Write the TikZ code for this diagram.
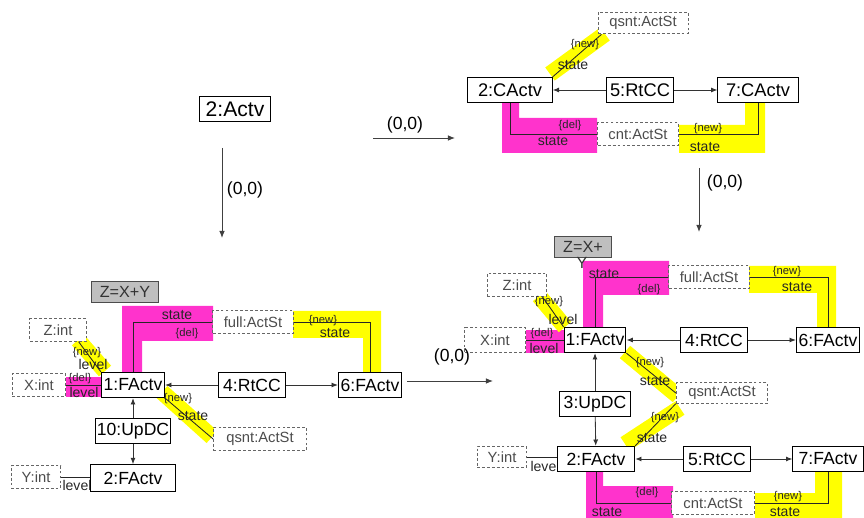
\documentclass[tikz,border=0pt]{standalone}
\usepackage{fontspec}
\setmainfont{Liberation Sans}
\usetikzlibrary{arrows.meta,calc,backgrounds}
\definecolor{delpink}{RGB}{255,51,204}
\definecolor{newyel}{RGB}{255,255,0}

\begin{document}
\begin{tikzpicture}[x=0.025cm,y=-0.025cm,line width=0.7pt,
  obj/.style={draw,fill=white,inner sep=1pt,minimum height=18pt,font=\fontsize{12.5}{14}\selectfont},
  val/.style={draw=black!60,dash pattern=on 2pt off 1.5pt,fill=white,text=black!70,inner sep=1pt,minimum height=16pt,font=\fontsize{10.5}{12}\selectfont},
  cond/.style={draw=black!70,fill=black!25,text=black!80,inner sep=1pt,minimum height=15.5pt,font=\fontsize{11.5}{13}\selectfont},
  lbl/.style={inner sep=0pt,text=black!85,font=\fontsize{10}{11}\selectfont},
  tag/.style={inner sep=0pt,text=black!85,font=\fontsize{8}{9}\selectfont},
  ln/.style={draw=black!85,line width=0.6pt},
  link/.style={draw=black!80,line width=0.6pt,-{Latex[length=4.5pt,width=3.5pt]}},
  rule/.style={draw=black!75,line width=0.7pt,-{Latex[length=5pt,width=4pt]}},
  delzone/.style={fill=delpink},
  newzone/.style={fill=newyel},
  newbar/.style={draw=newyel,line width=11.5pt}]

  \useasboundingbox (0,0) rectangle (864,518);

  % marked areas
  \fill[delzone] (502,100) -- (519,100) -- (519,118) -- (597,118) -- (597,153) -- (502,153) -- cycle;
  \fill[newzone] (679,125) -- (745,125) -- (745,100) -- (765,100) -- (765,153) -- (679,153) -- cycle;
  \draw[newbar] (550,74) -- (605,34);

  \fill[delzone] (122,374) -- (122,306) -- (213,306) -- (213,341) -- (142,341) -- (142,374) -- cycle;
  \fill[newzone] (293,311) -- (381,311) -- (381,374) -- (363,374) -- (363,338) -- (293,338) -- cycle;
  \fill[delzone] (66,377) rectangle (102,397);
  \draw[newbar] (78,340) -- (105,371);
  \draw[newbar] (162,392) -- (212,437);

  \fill[delzone] (583,330) -- (583,261) -- (669,261) -- (669,295) -- (603,295) -- (603,330) -- cycle;
  \fill[newzone] (749,266) -- (836,266) -- (836,330) -- (817,330) -- (817,293) -- (749,293) -- cycle;
  \fill[delzone] (526,330) rectangle (564,353);
  \draw[newbar] (539,296) -- (565,327);
  \draw[newbar] (625,352) -- (678,396);
  \draw[newbar] (625,444) -- (680,408);
  \fill[delzone] (586,470) -- (603,470) -- (603,486) -- (673,486) -- (673,520) -- (586,520) -- cycle;
  \fill[newzone] (755,493) -- (815,493) -- (815,470) -- (842,470) -- (842,520) -- (755,520) -- cycle;

  % start graph
  \node[obj,font=\fontsize{15}{17}\selectfont,minimum width=51pt] (ac) at (235,109) {2:Actv};

  % graph after first step
  \node[obj,font=\fontsize{13}{15}\selectfont,minimum width=60pt] (c2) at (510,90) {2:CActv};
  \node[obj,font=\fontsize{13}{15}\selectfont,minimum width=47pt] (r5t) at (640,90) {5:RtCC};
  \node[obj,font=\fontsize{13}{15}\selectfont,minimum width=57pt] (c7) at (758,90) {7:CActv};
  \node[val,minimum width=64pt,minimum height=15.5pt] (qst) at (643,23) {qsnt:ActSt};
  \node[val,minimum width=57pt] (cnt) at (638,134) {cnt:ActSt};

  % left graph
  \node[cond,minimum width=47pt] (zcl) at (125,292) {Z=X+Y};
  \node[val,minimum width=57pt] (ful) at (253,322) {full:ActSt};
  \node[obj,minimum width=45pt] (f1l) at (133,385) {1:FActv};
  \node[obj,minimum width=47pt] (r4l) at (252,385) {4:RtCC};
  \node[obj,minimum width=45pt] (f6l) at (370,385) {6:FActv};
  \node[val,minimum width=40pt] (zil) at (58,330) {Z:int};
  \node[val,minimum width=38pt] (xil) at (39,385) {X:int};
  \node[val,minimum width=66pt,minimum height=17pt] (qsl) at (260,439) {qsnt:ActSt};
  \node[obj,minimum width=50pt] (upl) at (133,431) {10:UpDC};
  \node[val,minimum width=35pt] (yil) at (36,477) {Y:int};

  % right graph
  \node[cond,minimum width=41pt] (zcr) at (583,247) {Z=X+};
  \node[inner sep=0pt,text=black!80,font=\fontsize{11.5}{13}\selectfont] (zyr) at (582,263) {Y};
  \node[val,minimum width=57pt] (fur) at (709,277) {full:ActSt};
  \node[obj,minimum width=44pt] (f1r) at (595,340) {1:FActv};
  \node[obj,minimum width=47pt] (r4r) at (714,340) {4:RtCC};
  \node[obj,minimum width=45pt] (f6r) at (828,340) {6:FActv};
  \node[val,minimum width=42.5pt] (zir) at (517,285) {Z:int};
  \node[val,minimum width=43pt,minimum height=17.5pt] (xir) at (495,340) {X:int};
  \node[val,minimum width=65pt,minimum height=14.5pt] (qsr) at (722,393) {qsnt:ActSt};
  \node[obj,minimum width=50pt] (upr) at (595,404) {3:UpDC};
  \node[obj,minimum width=47pt] (r5r) at (717,459) {5:RtCC};
  \node[obj,minimum width=50pt] (f7r) at (828,459) {7:FActv};
  \node[val,minimum width=35.5pt,minimum height=15pt] (yir) at (502,457) {Y:int};
  \node[val,minimum width=59pt] (cnr) at (713,503) {cnt:ActSt};

  \begin{scope}[on background layer]
    \node[lbl] (lvl) at (77,485) {level};
    \node[lbl] (lvr) at (545,466) {level};
  \end{scope}
  \node[obj,minimum width=61pt,minimum height=19pt] (f2l) at (133,478) {2:FActv};
  \node[obj,minimum width=55pt] (f2r) at (596,459) {2:FActv};

  % transformation steps
  \coordinate (s1a) at (222,148);
  \coordinate (s1b) at (222,238);
  \coordinate (s2a) at (373,138);
  \coordinate (s2b) at (455,138);
  \coordinate (s3a) at (699,168);
  \coordinate (s3b) at (699,232);
  \coordinate (s4a) at (407,381);
  \coordinate (s4b) at (493,381);
  \draw[rule] (s1a) -- (s1b) node[font=\fontsize{12.5}{14}\selectfont] at (245,190) {(0,0)};
  \draw[rule] (s2a) -- (s2b) node[font=\fontsize{12.5}{14}\selectfont] at (405,125) {(0,0)};
  \draw[rule] (s3a) -- (s3b) node[font=\fontsize{12.5}{14}\selectfont] at (725,183) {(0,0)};
  \draw[rule] (s4a) -- (s4b) node[font=\fontsize{12.5}{14}\selectfont] at (452,357) {(0,0)};

  % links after first step
  \draw[link] (r5t) -- (c2);
  \draw[link] (r5t) -- (c7);
  \draw[ln] (c2.north east) -- ($(qst.south west)+(4,0)$)
    node[tag] at (585,45) {\{new\}} node[lbl] at (573,65) {state};
  \draw[ln] (c2.south) |- (cnt.west)
    node[tag] at (570,126) {\{del\}} node[lbl] at (553,141) {state};
  \draw[ln] (cnt.east) -| (c7.south)
    node[tag] at (708,129) {\{new\}} node[lbl] at (705,147) {state};

  % links left graph
  \draw[link] (r4l) -- (f1l);
  \draw[link] (r4l) -- (f6l);
  \draw[link] (upl) -- (f1l);
  \draw[link] (upl) -- (f2l);
  \draw[ln] (f1l.north) |- (ful.west)
    node[lbl] at (177,315) {state} node[tag] at (187,334) {\{del\}};
  \draw[ln] (ful.east) -| (f6l.north)
    node[tag] at (323,321) {\{new\}} node[lbl] at (335,333) {state};
  \draw[ln] ($(zil.south east)+(-8,0)$) -- (f1l.north west)
    node[tag] at (87,353) {\{new\}} node[lbl] at (93,364) {level};
  \draw[ln] (xil) -- (f1l)
    node[tag] at (80,379) {\{del\}} node[lbl] at (84,392) {level};
  \draw[ln] (f1l.south east) -- (qsl.west)
    node[tag] at (178,399) {\{new\}} node[lbl] at (193,416) {state};
  \draw[ln] (yil.east) -- (yil.east -| f2l.west);

  % links right graph
  \draw[link] (r4r) -- (f1r);
  \draw[link] (r4r) -- (f6r);
  \draw[link] (upr) -- (f1r);
  \draw[link] (upr) -- (f2r);
  \draw[link] (r5r) -- (f2r);
  \draw[link] (r5r) -- (f7r);
  \draw[ln] (f1r.north) |- (fur.west)
    node[lbl] at (604,274) {state} node[tag] at (649,290) {\{del\}};
  \draw[ln] (fur.east) -| (f6r.north)
    node[tag] at (787,272) {\{new\}} node[lbl] at (797,287) {state};
  \draw[ln] ($(zir.south east)+(-5,0)$) -- (f1r.north west)
    node[tag] at (549,302) {\{new\}} node[lbl] at (563,319) {level};
  \draw[ln] (xir) -- (f1r)
    node[tag] at (542,334) {\{del\}} node[lbl] at (544,348) {level};
  \draw[ln] (f1r.south east) -- (qsr.west)
    node[tag] at (650,363) {\{new\}} node[lbl] at (655,381) {state};
  \draw[ln] (f2r.north east) -- (qsr.south west)
    node[tag] at (665,418) {\{new\}} node[lbl] at (652,438) {state};
  \draw[ln] (yir.east) -- (yir.east -| f2r.west);
  \draw[ln] (f2r.south) |- (cnr.west)
    node[tag] at (647,493) {\{del\}} node[lbl] at (607,512) {state};
  \draw[ln] (cnr.east) -| (f7r.south)
    node[tag] at (788,497) {\{new\}} node[lbl] at (785,512) {state};

\end{tikzpicture}
\end{document}
